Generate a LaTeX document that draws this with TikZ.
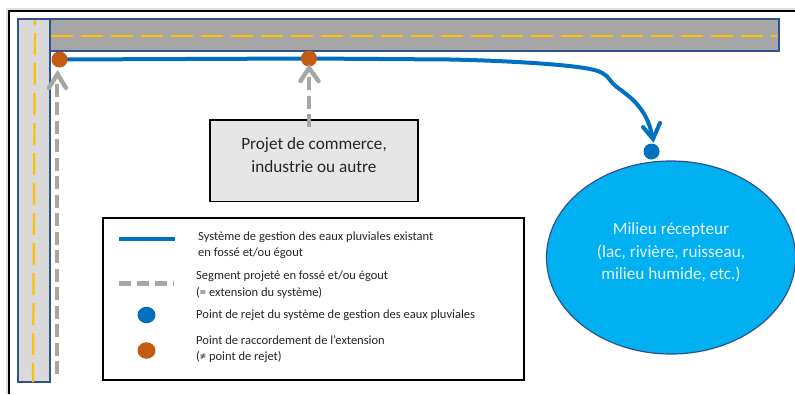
\documentclass[tikz,border=0pt]{standalone}
\usepackage{fontspec}
\setmainfont{Carlito}
\usetikzlibrary{arrows.meta,shapes.geometric}
\definecolor{roadgray}{HTML}{A6A6A6}
\definecolor{roadlight}{HTML}{D9D9D9}
\definecolor{roadedge}{HTML}{2F528F}
\definecolor{roadline}{HTML}{FFC000}
\definecolor{sysblue}{HTML}{0070C0}
\definecolor{rustdot}{HTML}{C55A11}
\definecolor{lakeblue}{HTML}{00B0F0}
\definecolor{boxgray}{HTML}{E7E6E6}
\definecolor{inktext}{HTML}{262626}
\tikzset{
  x=1pt,y=-1pt,
  road/.style={draw=roadedge,line width=1.2pt},
  centerline/.style={draw=roadline,line width=2.2pt,dash pattern=on 22pt off 8pt},
  sysline/.style={draw=sysblue,line width=4pt},
  extline/.style={draw=roadgray,line width=4.4pt,dash pattern=on 13pt off 5.5pt},
  rustnode/.style={circle,inner sep=0pt,minimum size=16pt,fill=rustdot},
  bluenode/.style={circle,inner sep=0pt,minimum size=16pt,fill=sysblue},
  legdot/.style={ellipse,inner sep=0pt,minimum width=18pt,minimum height=16.5pt},
  legendtext/.style={anchor=west,align=left,text=inktext,inner sep=0pt,font=\fontsize{12.5}{16.5}\selectfont},
}
\begin{document}
\begin{tikzpicture}
\useasboundingbox (0,0) rectangle (795,394);
\fill[white] (0,0) rectangle (795,394);
% scan edge and frame
\fill[black!12] (6,8) rectangle (795,9.5);
\fill[black!12] (6,8) rectangle (7.5,394);
\draw[black,line width=2pt] (9,394) -- (9,10.5) -- (795,10.5);
% roads
\path[road,fill=roadlight] (18,19) rectangle (50,382);
\path[road,fill=roadgray] (50,19) rectangle (779,51);
\coordinate (hs) at (51,36);
\coordinate (he) at (777,36);
\coordinate (vs) at (35,20);
\coordinate (ve) at (33,382);
\draw[centerline] (hs) -- (he);
\draw[centerline,dash phase=17pt] (vs) -- (ve);
% main nodes
\node[draw=black,fill=boxgray,line width=1.4pt,minimum width=208pt,minimum height=81.5pt,inner sep=0pt] (proj) at (314,160.7) {};
\node[align=center,text=inktext,inner sep=0pt,font=\fontsize{17.2}{23}\selectfont] (projtext) at (314,155) {Projet de commerce,\\industrie ou autre};
\node[ellipse,draw=roadedge,fill=lakeblue,line width=1.2pt,inner sep=0pt,minimum width=249pt,minimum height=193pt] (lake) at (671,257.5) {};
\node[align=center,text=white!90!lakeblue,inner sep=0pt,font=\fontsize{17.2}{22.5}\selectfont] (laketext) at (671,252.5) {Milieu récepteur\\(lac, rivière, ruisseau,\\milieu humide, etc.)};
\node[bluenode] (rej) at (651.5,151.5) {};
% existing system
\coordinate (c1) at (59.5,59.5);
\coordinate (c2) at (309,58.5);
\draw[sysline,line cap=round] (c1) -- (c2) -- (450,59.5)
  .. controls (500,60.5) and (565,64) .. (590,69)
  .. controls (600,71) and (606,74) .. (610,80)
  .. controls (614,86) and (620,89) .. (626,94)
  .. controls (638,103) and (649,117) .. (652,136);
\coordinate (w1) at (643,127);
\coordinate (tip) at (653,139);
\coordinate (w2) at (660,123);
\draw[sysline,line cap=round,line join=miter] (w1) -- (tip) -- (w2);
\node[rustnode] (p1) at (c1) {};
\node[rustnode] (p2) at (c2) {};
% projected extensions
\coordinate (ext1) at (57,374);
\coordinate (ext2) at (309,127);
\draw[extline] (ext1) -- (57,80);
\draw[extline] (ext2) -- (309,75);
\draw[roadgray,line width=4.4pt,line cap=round] (49,88) -- (57.5,74) -- (66,88);
\draw[roadgray,line width=4.4pt,line cap=round] (300.5,81) -- (309,68) -- (318.5,81);
% legend
\node[draw=black,fill=white,line width=1.6pt,minimum width=421pt,minimum height=162pt,inner sep=0pt] (legend) at (313.5,299) {};
\coordinate (l1a) at (119,239);
\coordinate (l1b) at (175,239);
\coordinate (l2a) at (119,283.5);
\coordinate (l2b) at (174,283.5);
\draw[sysline,line width=4.4pt] (l1a) -- (l1b);
\draw[extline,dash pattern=on 12pt off 6pt] (l2a) -- (l2b);
\node[legdot,fill=sysblue] (d1) at (146.5,315) {};
\node[legdot,fill=rustdot] (d2) at (146.5,350.5) {};
\node[legendtext] (t1) at (198,245) {Système de gestion des eaux pluviales existant\\en fossé et/ou égout};
\node[legendtext] (t2) at (196,284.5) {Segment projeté en fossé et/ou égout\\(= extension du système)};
\node[legendtext] (t3) at (196,315.5) {Point de rejet du système de gestion des eaux pluviales};
\node[legendtext] (t4) at (196,349) {Point de raccordement de l’extension\\(≠ point de rejet)};
\end{tikzpicture}
\end{document}
